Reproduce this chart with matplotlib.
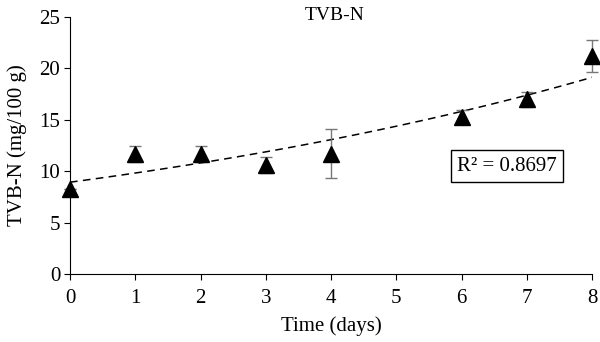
import numpy as np
import matplotlib.pyplot as plt

plt.rcParams['font.family'] = ['Liberation Serif', 'DejaVu Serif']

days = [0, 1, 2, 3, 4, 6, 7, 8]
tvbn = [8.3, 11.7, 11.7, 10.6, 11.7, 15.3, 17.0, 21.2]
err = [0.0, 0.8, 0.8, 0.8, 2.4, 0.7, 0.75, 1.55]
r2_text = 'R² = 0.8697'

# exponential trend line (fit of ln y on x, like Excel)
b, a = np.polyfit(days, np.log(tvbn), 1)
xf = np.linspace(0, 8, 100)
yf = np.exp(a) * np.exp(b * xf)

fig = plt.figure(figsize=(6, 3.42), dpi=100)
ax = fig.add_axes([0.1167, 0.1988, 0.87, 0.7512])

ax.plot(xf, yf, color='black', lw=1.1, linestyle=(0, (5, 3.5)))
ax.errorbar(days, tvbn, yerr=err, fmt='none', ecolor='#777777', elinewidth=1,
            capsize=4, clip_on=False)
ax.plot(days, tvbn, '^', color='black', markersize=11, linestyle='none', clip_on=False, zorder=5)

ax.set_xlim(0, 8)
ax.set_ylim(0, 25)
ax.set_xticks(range(0, 9))
ax.set_yticks(range(0, 26, 5))
ax.spines['top'].set_visible(False)
ax.spines['right'].set_visible(False)
ax.tick_params(axis='both', labelsize=15, direction='out', length=4, width=0.8)
ax.tick_params(axis='y', pad=3)
ax.tick_params(axis='x', pad=7)
ax.set_xlabel('Time (days)', fontsize=15, labelpad=6)
ax.set_ylabel('TVB-N (mg/100 g)', fontsize=15, labelpad=9)
fig.text(0.558, 0.955, 'TVB-N', fontsize=14, ha='center', va='center')

ax.text(6.7, 10.5, r2_text, fontsize=15, ha='center', va='center',
        bbox=dict(boxstyle='square,pad=0.3', fc='white', ec='black', lw=1))

for s in ax.spines.values():
    s.set_linewidth(0.8)

fig.savefig('out.png', dpi=100)
